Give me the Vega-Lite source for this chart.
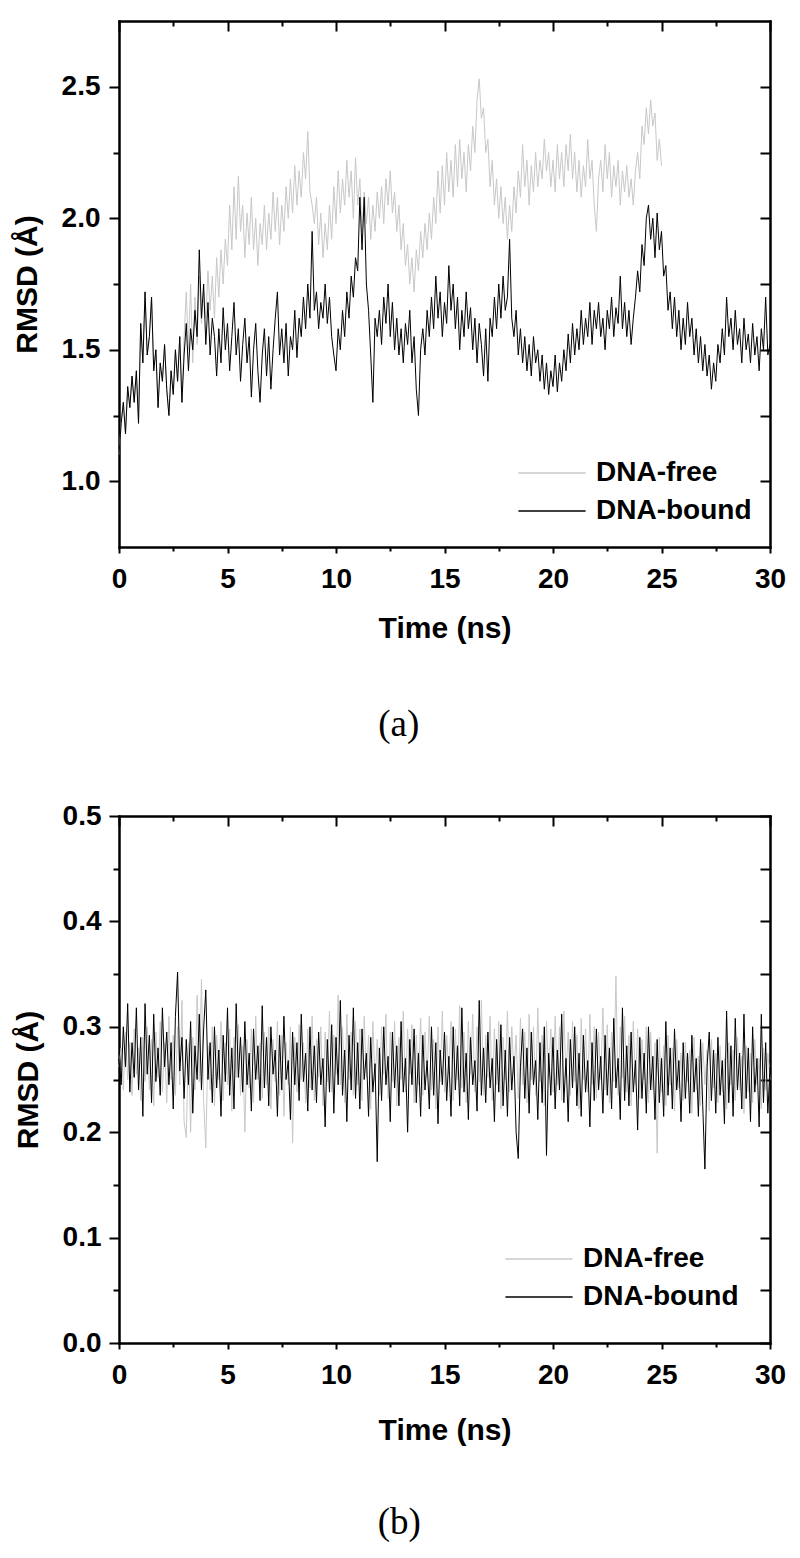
{
"$schema": "https://vega.github.io/schema/vega-lite/v6.json",
"padding": {"left": 12, "top": 20, "right": 10, "bottom": 5},
"background": "white",
"config": {
  "view": {"stroke": null},
  "axis": {"labelFont": "Liberation Sans", "labelFontWeight": "bold", "labelFontSize": 28, "labelColor": "black", "titleFont": "Liberation Sans", "titleFontSize": 30, "titleFontWeight": "bold", "titleColor": "black", "domainColor": "black", "domainWidth": 2, "domainCap": "square", "tickColor": "black", "tickWidth": 2, "grid": false, "labelFlush": false, "labelOverlap": false},
  "legend": {"orient": "none", "title": null, "symbolType": "M-2.4,0H2.4", "symbolSize": 784, "symbolStrokeWidth": 1.3, "labelFont": "Liberation Sans", "labelFontWeight": "bold", "labelFontSize": 28, "labelColor": "black", "labelOffset": 29, "rowPadding": 9, "padding": 0, "symbolOffset": 0}
},
"datasets": {
"A": [
{"t":0.0,"b":1.10,"f":1.10},{"t":0.1,"b":1.22,"f":1.22},{"t":0.2,"b":1.30,"f":1.30},{"t":0.3,"b":1.18,"f":1.18},{"t":0.4,"b":1.36,"f":1.36},{"t":0.5,"b":1.28,"f":1.28},{"t":0.6,"b":1.40,"f":1.40},{"t":0.7,"b":1.30,"f":1.30},{"t":0.8,"b":1.42,"f":1.42},{"t":0.9,"b":1.22,"f":1.22},
{"t":1.0,"b":1.60,"f":1.60},{"t":1.1,"b":1.45,"f":1.45},{"t":1.2,"b":1.72,"f":1.72},{"t":1.3,"b":1.48,"f":1.48},{"t":1.4,"b":1.55,"f":1.55},{"t":1.5,"b":1.70,"f":1.70},{"t":1.6,"b":1.42,"f":1.42},{"t":1.7,"b":1.50,"f":1.50},{"t":1.8,"b":1.28,"f":1.28},{"t":1.9,"b":1.45,"f":1.45},
{"t":2.0,"b":1.38,"f":1.38},{"t":2.1,"b":1.52,"f":1.52},{"t":2.2,"b":1.35,"f":1.35},{"t":2.3,"b":1.25,"f":1.25},{"t":2.4,"b":1.42,"f":1.42},{"t":2.5,"b":1.33,"f":1.33},{"t":2.6,"b":1.50,"f":1.50},{"t":2.7,"b":1.38,"f":1.38},{"t":2.8,"b":1.55,"f":1.55},{"t":2.9,"b":1.30,"f":1.30},
{"t":3.0,"b":1.48,"f":1.55},{"t":3.1,"b":1.60,"f":1.72},{"t":3.2,"b":1.42,"f":1.50},{"t":3.3,"b":1.58,"f":1.75},{"t":3.4,"b":1.50,"f":1.45},{"t":3.5,"b":1.65,"f":1.70},{"t":3.6,"b":1.55,"f":1.52},{"t":3.7,"b":1.88,"f":1.78},{"t":3.8,"b":1.62,"f":1.60},{"t":3.9,"b":1.75,"f":1.72},
{"t":4.0,"b":1.52,"f":1.62},{"t":4.1,"b":1.68,"f":1.80},{"t":4.2,"b":1.48,"f":1.65},{"t":4.3,"b":1.62,"f":1.78},{"t":4.4,"b":1.55,"f":1.62},{"t":4.5,"b":1.40,"f":1.85},{"t":4.6,"b":1.58,"f":1.70},{"t":4.7,"b":1.45,"f":1.88},{"t":4.8,"b":1.66,"f":1.75},{"t":4.9,"b":1.50,"f":1.92},
{"t":5.0,"b":1.60,"f":1.82},{"t":5.1,"b":1.42,"f":2.05},{"t":5.2,"b":1.55,"f":1.88},{"t":5.3,"b":1.68,"f":2.12},{"t":5.4,"b":1.48,"f":1.92},{"t":5.5,"b":1.58,"f":2.16},{"t":5.6,"b":1.38,"f":1.95},{"t":5.7,"b":1.52,"f":2.05},{"t":5.8,"b":1.62,"f":1.85},{"t":5.9,"b":1.45,"f":2.02},
{"t":6.0,"b":1.55,"f":1.90},{"t":6.1,"b":1.32,"f":2.08},{"t":6.2,"b":1.50,"f":1.88},{"t":6.3,"b":1.60,"f":2.00},{"t":6.4,"b":1.42,"f":1.82},{"t":6.5,"b":1.30,"f":1.98},{"t":6.6,"b":1.48,"f":1.90},{"t":6.7,"b":1.58,"f":2.05},{"t":6.8,"b":1.40,"f":1.88},{"t":6.9,"b":1.55,"f":2.02},
{"t":7.0,"b":1.35,"f":1.92},{"t":7.1,"b":1.50,"f":2.10},{"t":7.2,"b":1.62,"f":1.95},{"t":7.3,"b":1.72,"f":2.08},{"t":7.4,"b":1.48,"f":1.90},{"t":7.5,"b":1.58,"f":2.05},{"t":7.6,"b":1.45,"f":1.95},{"t":7.7,"b":1.60,"f":2.12},{"t":7.8,"b":1.40,"f":2.00},{"t":7.9,"b":1.55,"f":2.15},
{"t":8.0,"b":1.50,"f":2.02},{"t":8.1,"b":1.65,"f":2.20},{"t":8.2,"b":1.47,"f":2.05},{"t":8.3,"b":1.62,"f":2.18},{"t":8.4,"b":1.55,"f":2.08},{"t":8.5,"b":1.70,"f":2.25},{"t":8.6,"b":1.58,"f":2.15},{"t":8.7,"b":1.75,"f":2.33},{"t":8.8,"b":1.62,"f":2.10},{"t":8.9,"b":1.95,"f":2.05},
{"t":9.0,"b":1.65,"f":1.98},{"t":9.1,"b":1.72,"f":2.08},{"t":9.2,"b":1.58,"f":1.90},{"t":9.3,"b":1.68,"f":2.02},{"t":9.4,"b":1.62,"f":1.85},{"t":9.5,"b":1.75,"f":1.98},{"t":9.6,"b":1.60,"f":1.88},{"t":9.7,"b":1.70,"f":2.05},{"t":9.8,"b":1.55,"f":1.92},{"t":9.9,"b":1.48,"f":2.12},
{"t":10.0,"b":1.42,"f":1.98},{"t":10.1,"b":1.58,"f":2.18},{"t":10.2,"b":1.50,"f":2.02},{"t":10.3,"b":1.65,"f":2.15},{"t":10.4,"b":1.55,"f":2.05},{"t":10.5,"b":1.72,"f":2.22},{"t":10.6,"b":1.62,"f":2.08},{"t":10.7,"b":1.78,"f":2.18},{"t":10.8,"b":1.70,"f":2.00},{"t":10.9,"b":1.85,"f":2.23},
{"t":11.0,"b":1.80,"f":2.05},{"t":11.1,"b":2.08,"f":2.15},{"t":11.2,"b":1.88,"f":1.95},{"t":11.3,"b":2.08,"f":2.10},{"t":11.4,"b":1.75,"f":1.98},{"t":11.5,"b":1.65,"f":2.08},{"t":11.6,"b":1.48,"f":1.92},{"t":11.7,"b":1.30,"f":2.05},{"t":11.8,"b":1.62,"f":1.95},{"t":11.9,"b":1.55,"f":2.10},
{"t":12.0,"b":1.65,"f":2.00},{"t":12.1,"b":1.52,"f":2.12},{"t":12.2,"b":1.70,"f":1.98},{"t":12.3,"b":1.60,"f":2.15},{"t":12.4,"b":1.75,"f":2.05},{"t":12.5,"b":1.55,"f":2.18},{"t":12.6,"b":1.68,"f":2.02},{"t":12.7,"b":1.50,"f":2.10},{"t":12.8,"b":1.62,"f":1.95},{"t":12.9,"b":1.48,"f":2.05},
{"t":13.0,"b":1.58,"f":1.88},{"t":13.1,"b":1.45,"f":1.98},{"t":13.2,"b":1.60,"f":1.82},{"t":13.3,"b":1.52,"f":1.90},{"t":13.4,"b":1.65,"f":1.75},{"t":13.5,"b":1.45,"f":1.85},{"t":13.6,"b":1.55,"f":1.72},{"t":13.7,"b":1.35,"f":1.88},{"t":13.8,"b":1.25,"f":1.80},{"t":13.9,"b":1.50,"f":1.95},
{"t":14.0,"b":1.58,"f":1.85},{"t":14.1,"b":1.48,"f":1.98},{"t":14.2,"b":1.65,"f":1.88},{"t":14.3,"b":1.55,"f":2.02},{"t":14.4,"b":1.70,"f":1.92},{"t":14.5,"b":1.58,"f":2.08},{"t":14.6,"b":1.78,"f":1.98},{"t":14.7,"b":1.62,"f":2.18},{"t":14.8,"b":1.72,"f":2.02},{"t":14.9,"b":1.55,"f":2.20},
{"t":15.0,"b":1.68,"f":2.05},{"t":15.1,"b":1.60,"f":2.25},{"t":15.2,"b":1.82,"f":2.10},{"t":15.3,"b":1.65,"f":2.22},{"t":15.4,"b":1.75,"f":2.08},{"t":15.5,"b":1.58,"f":2.28},{"t":15.6,"b":1.70,"f":2.12},{"t":15.7,"b":1.50,"f":2.30},{"t":15.8,"b":1.65,"f":2.15},{"t":15.9,"b":1.55,"f":2.25},
{"t":16.0,"b":1.72,"f":2.10},{"t":16.1,"b":1.58,"f":2.28},{"t":16.2,"b":1.66,"f":2.18},{"t":16.3,"b":1.50,"f":2.35},{"t":16.4,"b":1.62,"f":2.25},{"t":16.5,"b":1.45,"f":2.45},{"t":16.6,"b":1.60,"f":2.53},{"t":16.7,"b":1.52,"f":2.38},{"t":16.8,"b":1.40,"f":2.42},{"t":16.9,"b":1.58,"f":2.25},
{"t":17.0,"b":1.38,"f":2.30},{"t":17.1,"b":1.62,"f":2.12},{"t":17.2,"b":1.55,"f":2.22},{"t":17.3,"b":1.70,"f":2.05},{"t":17.4,"b":1.58,"f":2.15},{"t":17.5,"b":1.75,"f":2.00},{"t":17.6,"b":1.62,"f":2.12},{"t":17.7,"b":1.78,"f":1.98},{"t":17.8,"b":1.65,"f":2.08},{"t":17.9,"b":1.70,"f":1.92},
{"t":18.0,"b":1.92,"f":2.05},{"t":18.1,"b":1.62,"f":1.95},{"t":18.2,"b":1.55,"f":2.12},{"t":18.3,"b":1.65,"f":2.02},{"t":18.4,"b":1.48,"f":2.18},{"t":18.5,"b":1.58,"f":2.08},{"t":18.6,"b":1.45,"f":2.28},{"t":18.7,"b":1.55,"f":2.12},{"t":18.8,"b":1.42,"f":2.22},{"t":18.9,"b":1.52,"f":2.05},
{"t":19.0,"b":1.40,"f":2.20},{"t":19.1,"b":1.55,"f":2.10},{"t":19.2,"b":1.45,"f":2.25},{"t":19.3,"b":1.50,"f":2.12},{"t":19.4,"b":1.38,"f":2.22},{"t":19.5,"b":1.48,"f":2.15},{"t":19.6,"b":1.35,"f":2.30},{"t":19.7,"b":1.45,"f":2.18},{"t":19.8,"b":1.33,"f":2.25},{"t":19.9,"b":1.42,"f":2.12},
{"t":20.0,"b":1.36,"f":2.22},{"t":20.1,"b":1.48,"f":2.10},{"t":20.2,"b":1.34,"f":2.28},{"t":20.3,"b":1.45,"f":2.15},{"t":20.4,"b":1.38,"f":2.25},{"t":20.5,"b":1.50,"f":2.12},{"t":20.6,"b":1.42,"f":2.28},{"t":20.7,"b":1.56,"f":2.18},{"t":20.8,"b":1.45,"f":2.32},{"t":20.9,"b":1.60,"f":2.15},
{"t":21.0,"b":1.48,"f":2.25},{"t":21.1,"b":1.58,"f":2.10},{"t":21.2,"b":1.50,"f":2.22},{"t":21.3,"b":1.65,"f":2.08},{"t":21.4,"b":1.52,"f":2.20},{"t":21.5,"b":1.62,"f":2.12},{"t":21.6,"b":1.55,"f":2.30},{"t":21.7,"b":1.68,"f":2.15},{"t":21.8,"b":1.52,"f":2.22},{"t":21.9,"b":1.65,"f":2.05},
{"t":22.0,"b":1.58,"f":1.95},{"t":22.1,"b":1.68,"f":2.15},{"t":22.2,"b":1.55,"f":2.22},{"t":22.3,"b":1.62,"f":2.10},{"t":22.4,"b":1.50,"f":2.28},{"t":22.5,"b":1.65,"f":2.15},{"t":22.6,"b":1.58,"f":2.25},{"t":22.7,"b":1.70,"f":2.08},{"t":22.8,"b":1.55,"f":2.20},{"t":22.9,"b":1.66,"f":2.12},
{"t":23.0,"b":1.60,"f":2.22},{"t":23.1,"b":1.78,"f":2.05},{"t":23.2,"b":1.58,"f":2.18},{"t":23.3,"b":1.68,"f":2.10},{"t":23.4,"b":1.55,"f":2.20},{"t":23.5,"b":1.65,"f":2.08},{"t":23.6,"b":1.52,"f":2.15},{"t":23.7,"b":1.62,"f":2.05},{"t":23.8,"b":1.70,"f":2.18},{"t":23.9,"b":1.80,"f":2.25},
{"t":24.0,"b":1.72,"f":2.15},{"t":24.1,"b":1.90,"f":2.35},{"t":24.2,"b":1.82,"f":2.28},{"t":24.3,"b":2.00,"f":2.42},{"t":24.4,"b":2.05,"f":2.32},{"t":24.5,"b":1.92,"f":2.45},{"t":24.6,"b":2.00,"f":2.35},{"t":24.7,"b":1.85,"f":2.40},{"t":24.8,"b":2.02,"f":2.22},{"t":24.9,"b":1.88,"f":2.30},
{"t":25.0,"b":1.95,"f":2.20},{"t":25.1,"b":1.78},{"t":25.2,"b":1.82},{"t":25.3,"b":1.65},{"t":25.4,"b":1.72},{"t":25.5,"b":1.58},{"t":25.6,"b":1.70},{"t":25.7,"b":1.55},{"t":25.8,"b":1.65},{"t":25.9,"b":1.50},
{"t":26.0,"b":1.62},{"t":26.1,"b":1.52},{"t":26.2,"b":1.68},{"t":26.3,"b":1.55},{"t":26.4,"b":1.62},{"t":26.5,"b":1.48},{"t":26.6,"b":1.58},{"t":26.7,"b":1.45},{"t":26.8,"b":1.55},{"t":26.9,"b":1.42},
{"t":27.0,"b":1.52},{"t":27.1,"b":1.40},{"t":27.2,"b":1.48},{"t":27.3,"b":1.35},{"t":27.4,"b":1.45},{"t":27.5,"b":1.38},{"t":27.6,"b":1.52},{"t":27.7,"b":1.45},{"t":27.8,"b":1.58},{"t":27.9,"b":1.48},
{"t":28.0,"b":1.70},{"t":28.1,"b":1.55},{"t":28.2,"b":1.62},{"t":28.3,"b":1.50},{"t":28.4,"b":1.65},{"t":28.5,"b":1.52},{"t":28.6,"b":1.58},{"t":28.7,"b":1.45},{"t":28.8,"b":1.62},{"t":28.9,"b":1.50},
{"t":29.0,"b":1.56},{"t":29.1,"b":1.45},{"t":29.2,"b":1.60},{"t":29.3,"b":1.48},{"t":29.4,"b":1.55},{"t":29.5,"b":1.42},{"t":29.6,"b":1.58},{"t":29.7,"b":1.50},{"t":29.8,"b":1.70},{"t":29.9,"b":1.48},
{"t":30.0,"b":1.52}
],
"B": [
{"t":0.0,"b":0.270,"f":0.262},{"t":0.1,"b":0.245,"f":0.280},{"t":0.2,"b":0.300,"f":0.240},{"t":0.3,"b":0.262,"f":0.295},{"t":0.4,"b":0.322,"f":0.250},{"t":0.5,"b":0.238,"f":0.285},{"t":0.6,"b":0.285,"f":0.235},{"t":0.7,"b":0.252,"f":0.298},{"t":0.8,"b":0.318,"f":0.255},{"t":0.9,"b":0.240,"f":0.280},
{"t":1.0,"b":0.290,"f":0.230},{"t":1.1,"b":0.215,"f":0.290},{"t":1.2,"b":0.322,"f":0.248},{"t":1.3,"b":0.255,"f":0.300},{"t":1.4,"b":0.292,"f":0.240},{"t":1.5,"b":0.228,"f":0.288},{"t":1.6,"b":0.312,"f":0.225},{"t":1.7,"b":0.248,"f":0.295},{"t":1.8,"b":0.280,"f":0.252},{"t":1.9,"b":0.235,"f":0.305},
{"t":2.0,"b":0.318,"f":0.238},{"t":2.1,"b":0.262,"f":0.285},{"t":2.2,"b":0.295,"f":0.228},{"t":2.3,"b":0.245,"f":0.310},{"t":2.4,"b":0.285,"f":0.250},{"t":2.5,"b":0.222,"f":0.292},{"t":2.6,"b":0.310,"f":0.235},{"t":2.7,"b":0.352,"f":0.300},{"t":2.8,"b":0.258,"f":0.245},{"t":2.9,"b":0.290,"f":0.325},
{"t":3.0,"b":0.232,"f":0.210},{"t":3.1,"b":0.288,"f":0.195},{"t":3.2,"b":0.245,"f":0.285},{"t":3.3,"b":0.305,"f":0.200},{"t":3.4,"b":0.218,"f":0.290},{"t":3.5,"b":0.282,"f":0.240},{"t":3.6,"b":0.250,"f":0.330},{"t":3.7,"b":0.312,"f":0.248},{"t":3.8,"b":0.240,"f":0.345},{"t":3.9,"b":0.298,"f":0.230},
{"t":4.0,"b":0.335,"f":0.185},{"t":4.1,"b":0.250,"f":0.282},{"t":4.2,"b":0.285,"f":0.240},{"t":4.3,"b":0.228,"f":0.300},{"t":4.4,"b":0.300,"f":0.225},{"t":4.5,"b":0.242,"f":0.292},{"t":4.6,"b":0.278,"f":0.250},{"t":4.7,"b":0.215,"f":0.305},{"t":4.8,"b":0.292,"f":0.230},{"t":4.9,"b":0.248,"f":0.285},
{"t":5.0,"b":0.318,"f":0.245},{"t":5.1,"b":0.235,"f":0.298},{"t":5.2,"b":0.280,"f":0.220},{"t":5.3,"b":0.222,"f":0.290},{"t":5.4,"b":0.322,"f":0.252},{"t":5.5,"b":0.252,"f":0.302},{"t":5.6,"b":0.290,"f":0.235},{"t":5.7,"b":0.238,"f":0.282},{"t":5.8,"b":0.305,"f":0.200},{"t":5.9,"b":0.245,"f":0.288},
{"t":6.0,"b":0.275,"f":0.242},{"t":6.1,"b":0.220,"f":0.298},{"t":6.2,"b":0.298,"f":0.228},{"t":6.3,"b":0.250,"f":0.310},{"t":6.4,"b":0.282,"f":0.250},{"t":6.5,"b":0.230,"f":0.285},{"t":6.6,"b":0.320,"f":0.232},{"t":6.7,"b":0.242,"f":0.295},{"t":6.8,"b":0.290,"f":0.245},{"t":6.9,"b":0.225,"f":0.300},
{"t":7.0,"b":0.300,"f":0.222},{"t":7.1,"b":0.255,"f":0.288},{"t":7.2,"b":0.278,"f":0.248},{"t":7.3,"b":0.215,"f":0.305},{"t":7.4,"b":0.292,"f":0.235},{"t":7.5,"b":0.240,"f":0.292},{"t":7.6,"b":0.310,"f":0.215},{"t":7.7,"b":0.250,"f":0.285},{"t":7.8,"b":0.268,"f":0.245},{"t":7.9,"b":0.212,"f":0.300},
{"t":8.0,"b":0.295,"f":0.190},{"t":8.1,"b":0.245,"f":0.290},{"t":8.2,"b":0.285,"f":0.238},{"t":8.3,"b":0.230,"f":0.302},{"t":8.4,"b":0.312,"f":0.250},{"t":8.5,"b":0.248,"f":0.285},{"t":8.6,"b":0.275,"f":0.228},{"t":8.7,"b":0.220,"f":0.298},{"t":8.8,"b":0.300,"f":0.242},{"t":8.9,"b":0.240,"f":0.310},
{"t":9.0,"b":0.282,"f":0.230},{"t":9.1,"b":0.228,"f":0.288},{"t":9.2,"b":0.295,"f":0.252},{"t":9.3,"b":0.245,"f":0.300},{"t":9.4,"b":0.270,"f":0.225},{"t":9.5,"b":0.205,"f":0.295},{"t":9.6,"b":0.288,"f":0.248},{"t":9.7,"b":0.238,"f":0.315},{"t":9.8,"b":0.302,"f":0.238},{"t":9.9,"b":0.218,"f":0.292},
{"t":10.0,"b":0.290,"f":0.255},{"t":10.1,"b":0.245,"f":0.330},{"t":10.2,"b":0.325,"f":0.245},{"t":10.3,"b":0.235,"f":0.300},{"t":10.4,"b":0.278,"f":0.228},{"t":10.5,"b":0.210,"f":0.312},{"t":10.6,"b":0.292,"f":0.250},{"t":10.7,"b":0.240,"f":0.295},{"t":10.8,"b":0.318,"f":0.235},{"t":10.9,"b":0.232,"f":0.305},
{"t":11.0,"b":0.285,"f":0.245},{"t":11.1,"b":0.222,"f":0.298},{"t":11.2,"b":0.298,"f":0.230},{"t":11.3,"b":0.250,"f":0.310},{"t":11.4,"b":0.275,"f":0.252},{"t":11.5,"b":0.215,"f":0.292},{"t":11.6,"b":0.290,"f":0.222},{"t":11.7,"b":0.238,"f":0.305},{"t":11.8,"b":0.265,"f":0.248},{"t":11.9,"b":0.172,"f":0.288},
{"t":12.0,"b":0.280,"f":0.235},{"t":12.1,"b":0.230,"f":0.300},{"t":12.2,"b":0.300,"f":0.255},{"t":12.3,"b":0.245,"f":0.312},{"t":12.4,"b":0.272,"f":0.232},{"t":12.5,"b":0.210,"f":0.295},{"t":12.6,"b":0.295,"f":0.248},{"t":12.7,"b":0.242,"f":0.305},{"t":12.8,"b":0.282,"f":0.225},{"t":12.9,"b":0.225,"f":0.290},
{"t":13.0,"b":0.305,"f":0.250},{"t":13.1,"b":0.238,"f":0.315},{"t":13.2,"b":0.270,"f":0.238},{"t":13.3,"b":0.200,"f":0.298},{"t":13.4,"b":0.288,"f":0.255},{"t":13.5,"b":0.245,"f":0.302},{"t":13.6,"b":0.298,"f":0.228},{"t":13.7,"b":0.228,"f":0.292},{"t":13.8,"b":0.275,"f":0.245},{"t":13.9,"b":0.215,"f":0.308},
{"t":14.0,"b":0.292,"f":0.235},{"t":14.1,"b":0.240,"f":0.295},{"t":14.2,"b":0.268,"f":0.252},{"t":14.3,"b":0.222,"f":0.310},{"t":14.4,"b":0.300,"f":0.240},{"t":14.5,"b":0.235,"f":0.288},{"t":14.6,"b":0.285,"f":0.222},{"t":14.7,"b":0.208,"f":0.300},{"t":14.8,"b":0.278,"f":0.248},{"t":14.9,"b":0.245,"f":0.315},
{"t":15.0,"b":0.295,"f":0.238},{"t":15.1,"b":0.230,"f":0.292},{"t":15.2,"b":0.272,"f":0.255},{"t":15.3,"b":0.215,"f":0.305},{"t":15.4,"b":0.300,"f":0.230},{"t":15.5,"b":0.240,"f":0.298},{"t":15.6,"b":0.282,"f":0.250},{"t":15.7,"b":0.225,"f":0.320},{"t":15.8,"b":0.318,"f":0.242},{"t":15.9,"b":0.238,"f":0.295},
{"t":16.0,"b":0.275,"f":0.228},{"t":16.1,"b":0.212,"f":0.305},{"t":16.2,"b":0.290,"f":0.255},{"t":16.3,"b":0.245,"f":0.312},{"t":16.4,"b":0.268,"f":0.238},{"t":16.5,"b":0.220,"f":0.300},{"t":16.6,"b":0.325,"f":0.248},{"t":16.7,"b":0.235,"f":0.325},{"t":16.8,"b":0.280,"f":0.235},{"t":16.9,"b":0.228,"f":0.292},
{"t":17.0,"b":0.295,"f":0.252},{"t":17.1,"b":0.242,"f":0.310},{"t":17.2,"b":0.270,"f":0.230},{"t":17.3,"b":0.210,"f":0.298},{"t":17.4,"b":0.288,"f":0.245},{"t":17.5,"b":0.238,"f":0.305},{"t":17.6,"b":0.302,"f":0.222},{"t":17.7,"b":0.225,"f":0.290},{"t":17.8,"b":0.278,"f":0.250},{"t":17.9,"b":0.215,"f":0.315},
{"t":18.0,"b":0.290,"f":0.238},{"t":18.1,"b":0.240,"f":0.300},{"t":18.2,"b":0.272,"f":0.255},{"t":18.3,"b":0.200,"f":0.292},{"t":18.4,"b":0.175,"f":0.232},{"t":18.5,"b":0.262,"f":0.308},{"t":18.6,"b":0.298,"f":0.245},{"t":18.7,"b":0.232,"f":0.295},{"t":18.8,"b":0.280,"f":0.228},{"t":18.9,"b":0.218,"f":0.312},
{"t":19.0,"b":0.295,"f":0.250},{"t":19.1,"b":0.245,"f":0.300},{"t":19.2,"b":0.268,"f":0.235},{"t":19.3,"b":0.212,"f":0.318},{"t":19.4,"b":0.285,"f":0.248},{"t":19.5,"b":0.228,"f":0.292},{"t":19.6,"b":0.300,"f":0.225},{"t":19.7,"b":0.178,"f":0.305},{"t":19.8,"b":0.275,"f":0.252},{"t":19.9,"b":0.235,"f":0.298},
{"t":20.0,"b":0.290,"f":0.238},{"t":20.1,"b":0.222,"f":0.310},{"t":20.2,"b":0.278,"f":0.245},{"t":20.3,"b":0.240,"f":0.300},{"t":20.4,"b":0.312,"f":0.230},{"t":20.5,"b":0.228,"f":0.315},{"t":20.6,"b":0.270,"f":0.252},{"t":20.7,"b":0.210,"f":0.295},{"t":20.8,"b":0.288,"f":0.235},{"t":20.9,"b":0.242,"f":0.305},
{"t":21.0,"b":0.300,"f":0.248},{"t":21.1,"b":0.225,"f":0.292},{"t":21.2,"b":0.275,"f":0.222},{"t":21.3,"b":0.215,"f":0.308},{"t":21.4,"b":0.292,"f":0.250},{"t":21.5,"b":0.238,"f":0.298},{"t":21.6,"b":0.268,"f":0.238},{"t":21.7,"b":0.205,"f":0.312},{"t":21.8,"b":0.285,"f":0.245},{"t":21.9,"b":0.230,"f":0.300},
{"t":22.0,"b":0.298,"f":0.232},{"t":22.1,"b":0.240,"f":0.295},{"t":22.2,"b":0.272,"f":0.250},{"t":22.3,"b":0.218,"f":0.318},{"t":22.4,"b":0.292,"f":0.240},{"t":22.5,"b":0.235,"f":0.302},{"t":22.6,"b":0.280,"f":0.228},{"t":22.7,"b":0.222,"f":0.295},{"t":22.8,"b":0.308,"f":0.248},{"t":22.9,"b":0.242,"f":0.348},
{"t":23.0,"b":0.270,"f":0.235},{"t":23.1,"b":0.212,"f":0.300},{"t":23.2,"b":0.318,"f":0.252},{"t":23.3,"b":0.230,"f":0.310},{"t":23.4,"b":0.282,"f":0.238},{"t":23.5,"b":0.225,"f":0.292},{"t":23.6,"b":0.295,"f":0.225},{"t":23.7,"b":0.238,"f":0.305},{"t":23.8,"b":0.268,"f":0.245},{"t":23.9,"b":0.202,"f":0.298},
{"t":24.0,"b":0.290,"f":0.232},{"t":24.1,"b":0.232,"f":0.288},{"t":24.2,"b":0.275,"f":0.250},{"t":24.3,"b":0.218,"f":0.300},{"t":24.4,"b":0.300,"f":0.228},{"t":24.5,"b":0.240,"f":0.295},{"t":24.6,"b":0.272,"f":0.240},{"t":24.7,"b":0.212,"f":0.285},{"t":24.8,"b":0.288,"f":0.180},{"t":24.9,"b":0.228,"f":0.290},
{"t":25.0,"b":0.270,"f":0.238},{"t":25.1,"b":0.215,"f":0.282},{"t":25.2,"b":0.305,"f":0.225},{"t":25.3,"b":0.235,"f":0.292},{"t":25.4,"b":0.280,"f":0.245},{"t":25.5,"b":0.222,"f":0.280},{"t":25.6,"b":0.298,"f":0.220},{"t":25.7,"b":0.240,"f":0.288},{"t":25.8,"b":0.268,"f":0.242},{"t":25.9,"b":0.210,"f":0.275},
{"t":26.0,"b":0.285,"f":0.230},{"t":26.1,"b":0.232,"f":0.285},{"t":26.2,"b":0.275,"f":0.248},{"t":26.3,"b":0.218,"f":0.278},{"t":26.4,"b":0.292,"f":0.218},{"t":26.5,"b":0.238,"f":0.290},{"t":26.6,"b":0.270,"f":0.240},{"t":26.7,"b":0.215,"f":0.272},{"t":26.8,"b":0.288,"f":0.225},{"t":26.9,"b":0.225,"f":0.285},
{"t":27.0,"b":0.165,"f":0.245},{"t":27.1,"b":0.262,"f":0.278},{"t":27.2,"b":0.295,"f":0.220},{"t":27.3,"b":0.230,"f":0.288},{"t":27.4,"b":0.278,"f":0.242},{"t":27.5,"b":0.218,"f":0.275},{"t":27.6,"b":0.290,"f":0.228},{"t":27.7,"b":0.235,"f":0.282},{"t":27.8,"b":0.268,"f":0.238},{"t":27.9,"b":0.208,"f":0.270},
{"t":28.0,"b":0.315,"f":0.222},{"t":28.1,"b":0.228,"f":0.285},{"t":28.2,"b":0.282,"f":0.245},{"t":28.3,"b":0.215,"f":0.278},{"t":28.4,"b":0.308,"f":0.230},{"t":28.5,"b":0.240,"f":0.290},{"t":28.6,"b":0.275,"f":0.240},{"t":28.7,"b":0.222,"f":0.272},{"t":28.8,"b":0.312,"f":0.218},{"t":28.9,"b":0.232,"f":0.282},
{"t":29.0,"b":0.280,"f":0.238},{"t":29.1,"b":0.210,"f":0.275},{"t":29.2,"b":0.300,"f":0.228},{"t":29.3,"b":0.238,"f":0.288},{"t":29.4,"b":0.270,"f":0.245},{"t":29.5,"b":0.205,"f":0.270},{"t":29.6,"b":0.312,"f":0.222},{"t":29.7,"b":0.228,"f":0.280},{"t":29.8,"b":0.285,"f":0.240},{"t":29.9,"b":0.218,"f":0.275},
{"t":30.0,"b":0.262,"f":0.250}
]
},
"bounds": "flush",
"spacing": 269,
"resolve": {"scale": {"color": "independent"}},
"vconcat": [
{
  "width": 651, "height": 526,
  "data": {"name": "A"},
  "title": {"text": "(a)", "orient": "bottom", "frame": "bounds", "anchor": "middle", "offset": 64, "font": "Liberation Serif", "fontSize": 37, "fontWeight": "normal", "color": "black"},
  "resolve": {"axis": {"x": "independent", "y": "independent"}},
  "layer": [
    {"mark": {"type": "line", "strokeWidth": 1},
     "encoding": {
       "x": {"field": "t", "type": "quantitative", "scale": {"domain": [0, 30], "nice": false, "zero": false},
             "axis": {"orient": "bottom", "values": [0, 5, 10, 15, 20, 25, 30], "tickSize": 6, "labelPadding": 12, "title": "Time (ns)", "titlePadding": 20}},
       "y": {"field": "f", "type": "quantitative", "scale": {"domain": [0.75, 2.75], "nice": false, "zero": false},
             "axis": {"orient": "left", "values": [1.0, 1.5, 2.0, 2.5], "format": ".1f", "tickSize": 10, "labelPadding": 9, "title": "RMSD (Å)", "titlePadding": 19}},
       "color": {"datum": "DNA-free", "type": "nominal", "scale": {"domain": ["DNA-free", "DNA-bound"], "range": ["#c8c8c8", "#000000"]},
                 "legend": {"legendX": 418, "legendY": 437}}
     }},
    {"mark": {"type": "line", "strokeWidth": 1},
     "encoding": {
       "x": {"field": "t", "type": "quantitative", "scale": {"domain": [0, 30], "nice": false, "zero": false},
             "axis": {"orient": "bottom", "values": [2.5, 7.5, 12.5, 17.5, 22.5, 27.5], "tickSize": 4, "labels": false, "title": null}},
       "y": {"field": "b", "type": "quantitative", "scale": {"domain": [0.75, 2.75], "nice": false, "zero": false},
             "axis": {"orient": "left", "values": [1.25, 1.75, 2.25], "tickSize": 6, "labels": false, "title": null}},
       "color": {"datum": "DNA-bound", "type": "nominal", "scale": {"domain": ["DNA-free", "DNA-bound"], "range": ["#c8c8c8", "#000000"]},
                 "legend": {"legendX": 418, "legendY": 437}}
     }},
    {"mark": {"type": "point", "opacity": 0},
     "encoding": {
       "x": {"field": "t", "type": "quantitative", "scale": {"domain": [0, 30], "nice": false, "zero": false},
             "axis": {"orient": "top", "values": [0, 5, 10, 15, 20, 25, 30], "tickSize": -10, "labels": false, "title": null}},
       "y": {"field": "b", "type": "quantitative", "scale": {"domain": [0.75, 2.75], "nice": false, "zero": false},
             "axis": {"orient": "right", "values": [1.0, 1.5, 2.0, 2.5], "tickSize": -10, "labels": false, "title": null}}
     }},
    {"mark": {"type": "point", "opacity": 0},
     "encoding": {
       "x": {"field": "t", "type": "quantitative", "scale": {"domain": [0, 30], "nice": false, "zero": false},
             "axis": {"orient": "top", "values": [2.5, 7.5, 12.5, 17.5, 22.5, 27.5], "tickSize": -5, "labels": false, "title": null}},
       "y": {"field": "b", "type": "quantitative", "scale": {"domain": [0.75, 2.75], "nice": false, "zero": false},
             "axis": {"orient": "right", "values": [1.25, 1.75, 2.25], "tickSize": -10, "labels": false, "title": null}}
     }}
  ]
},
{
  "width": 651, "height": 527,
  "data": {"name": "B"},
  "title": {"text": "(b)", "orient": "bottom", "frame": "bounds", "anchor": "middle", "offset": 60, "font": "Liberation Serif", "fontSize": 37, "fontWeight": "normal", "color": "black"},
  "resolve": {"axis": {"x": "independent", "y": "independent"}},
  "layer": [
    {"mark": {"type": "line", "strokeWidth": 1},
     "encoding": {
       "x": {"field": "t", "type": "quantitative", "scale": {"domain": [0, 30], "nice": false, "zero": false},
             "axis": {"orient": "bottom", "values": [0, 5, 10, 15, 20, 25, 30], "tickSize": 6, "labelPadding": 12, "title": "Time (ns)", "titlePadding": 26}},
       "y": {"field": "f", "type": "quantitative", "scale": {"domain": [0, 0.5], "nice": false, "zero": false},
             "axis": {"orient": "left", "values": [0, 0.1, 0.2, 0.3, 0.4, 0.5], "format": ".1f", "tickSize": 10, "labelPadding": 8, "title": "RMSD (Å)", "titlePadding": 19}},
       "color": {"datum": "DNA-free", "type": "nominal", "scale": {"domain": ["DNA-free", "DNA-bound"], "range": ["#c8c8c8", "#000000"]},
                 "legend": {"legendX": 405, "legendY": 428}}
     }},
    {"mark": {"type": "line", "strokeWidth": 1},
     "encoding": {
       "x": {"field": "t", "type": "quantitative", "scale": {"domain": [0, 30], "nice": false, "zero": false},
             "axis": {"orient": "bottom", "values": [2.5, 7.5, 12.5, 17.5, 22.5, 27.5], "tickSize": 4, "labels": false, "title": null}},
       "y": {"field": "b", "type": "quantitative", "scale": {"domain": [0, 0.5], "nice": false, "zero": false},
             "axis": {"orient": "left", "values": [0.05, 0.15, 0.25, 0.35, 0.45], "tickSize": 6, "labels": false, "title": null}},
       "color": {"datum": "DNA-bound", "type": "nominal", "scale": {"domain": ["DNA-free", "DNA-bound"], "range": ["#c8c8c8", "#000000"]},
                 "legend": {"legendX": 405, "legendY": 428}}
     }},
    {"mark": {"type": "point", "opacity": 0},
     "encoding": {
       "x": {"field": "t", "type": "quantitative", "scale": {"domain": [0, 30], "nice": false, "zero": false},
             "axis": {"orient": "top", "values": [0, 5, 10, 15, 20, 25, 30], "tickSize": -10, "labels": false, "title": null}},
       "y": {"field": "b", "type": "quantitative", "scale": {"domain": [0, 0.5], "nice": false, "zero": false},
             "axis": {"orient": "right", "values": [0, 0.1, 0.2, 0.3, 0.4, 0.5], "tickSize": -10, "labels": false, "title": null}}
     }},
    {"mark": {"type": "point", "opacity": 0},
     "encoding": {
       "x": {"field": "t", "type": "quantitative", "scale": {"domain": [0, 30], "nice": false, "zero": false},
             "axis": {"orient": "top", "values": [2.5, 7.5, 12.5, 17.5, 22.5, 27.5], "tickSize": -5, "labels": false, "title": null}},
       "y": {"field": "b", "type": "quantitative", "scale": {"domain": [0, 0.5], "nice": false, "zero": false},
             "axis": {"orient": "right", "values": [0.05, 0.15, 0.25, 0.35, 0.45], "tickSize": -10, "labels": false, "title": null}}
     }}
  ]
}
]
}
